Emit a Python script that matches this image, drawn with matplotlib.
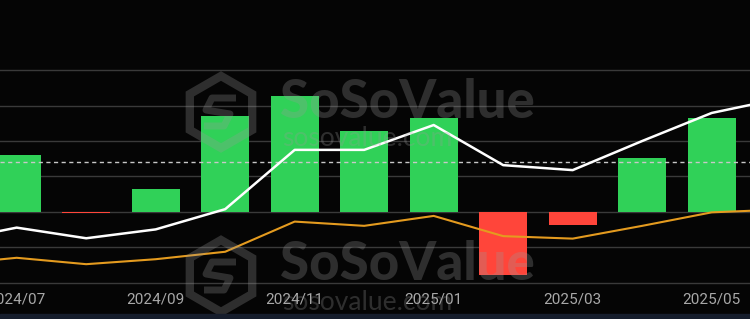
import matplotlib
matplotlib.use("Agg")
import matplotlib.pyplot as plt
from matplotlib.patches import RegularPolygon, Rectangle

# monthly data, index 0 = 2024/07
line_months = ["2024/06", "2024/07", "2024/08", "2024/09", "2024/10", "2024/11", "2024/12",
               "2025/01", "2025/02", "2025/03", "2025/04", "2025/05", "2025/06"]
bar_months = line_months[1:12]
flows = [1.60, -0.04, 0.64, 2.70, 3.27, 2.29, 2.64, -1.77, -0.37, 1.51, 2.64]
white_line = [-0.83, -0.44, -0.74, -0.49, 0.08, 1.75, 1.75, 2.45, 1.32, 1.18, 2.00, 2.79, 3.20]
orange_line = [-1.48, -1.29, -1.47, -1.33, -1.12, -0.27, -0.39, -0.11, -0.68, -0.75, -0.39, -0.01, 0.07]
avg_level = 1.42
tick_months = ["2024/07", "2024/09", "2024/11", "2025/01", "2025/03", "2025/05"]

pos = {m: i - 1 for i, m in enumerate(line_months)}

W, H = 750, 319
fig = plt.figure(figsize=(W / 100, H / 100), dpi=100, facecolor="#050505")
bottom = (H - 288) / H
ax = fig.add_axes([0, bottom, 1, 1 - bottom])
ax.set_facecolor("#050505")

ax.set_yticks([-2, -1, 0, 1, 2, 3, 4])
ax.grid(axis="y", color="#3a3a3a", linewidth=1.0, zorder=0)
ax.set_axisbelow(True)

bx = [pos[m] for m in bar_months]
cols = ["#30D158" if v >= 0 else "#FF453A" for v in flows]
ax.bar(bx, flows, width=0.69, color=cols, zorder=2)

lx = [pos[m] for m in line_months]
ax.plot(lx, orange_line, color="#E49B1F", linewidth=1.5, zorder=3)
ax.plot(lx, white_line, color="white", linewidth=1.8, zorder=4)
ax.axhline(avg_level, color="#c8c8c8", linewidth=1.0, linestyle=(0, (3, 2.5)), zorder=3)

ax.set_xlim(-0.240, 10.551)
ax.set_ylim(-2.141, 5.972)
ax.set_xticks([pos[m] for m in tick_months])
ax.set_xticklabels(tick_months, fontfamily="Roboto", fontsize=11, color="#a8a8a8")
ax.tick_params(axis="x", length=0, pad=3)
ax.tick_params(axis="y", length=0, labelleft=False)
for s in ax.spines.values():
    s.set_visible(False)

# watermark overlay in pixel coordinates
ov = fig.add_axes([0, 0, 1, 1])
ov.set_xlim(0, W)
ov.set_ylim(H, 0)
ov.axis("off")
ov.patch.set_alpha(0)
wm = dict(color="#9a9a9a", alpha=0.28)
for cy, ty, uy in [(112, 102, 139), (276, 265, 303)]:
    ov.add_patch(RegularPolygon((221, cy), 6, radius=36, orientation=0, fill=False,
                                edgecolor=wm["color"], alpha=wm["alpha"], linewidth=6))
    ov.plot([236, 212, 206, 230, 224, 204], [cy - 14, cy - 14, cy - 2, cy + 2, cy + 14, cy + 14],
            color=wm["color"], alpha=wm["alpha"], linewidth=5, solid_capstyle="butt")
    ov.text(280, ty, "SoSoValue", fontfamily="Lato", fontweight="black", fontsize=38,
            va="center", ha="left", **wm)
    ov.text(282, uy, "sosovalue.com", fontfamily="Lato", fontsize=19,
            va="center", ha="left", **wm)

ov.add_patch(Rectangle((0, 314), W, 6, color="#161d2c", zorder=5))

fig.savefig("out.png", dpi=100, facecolor=fig.get_facecolor())
